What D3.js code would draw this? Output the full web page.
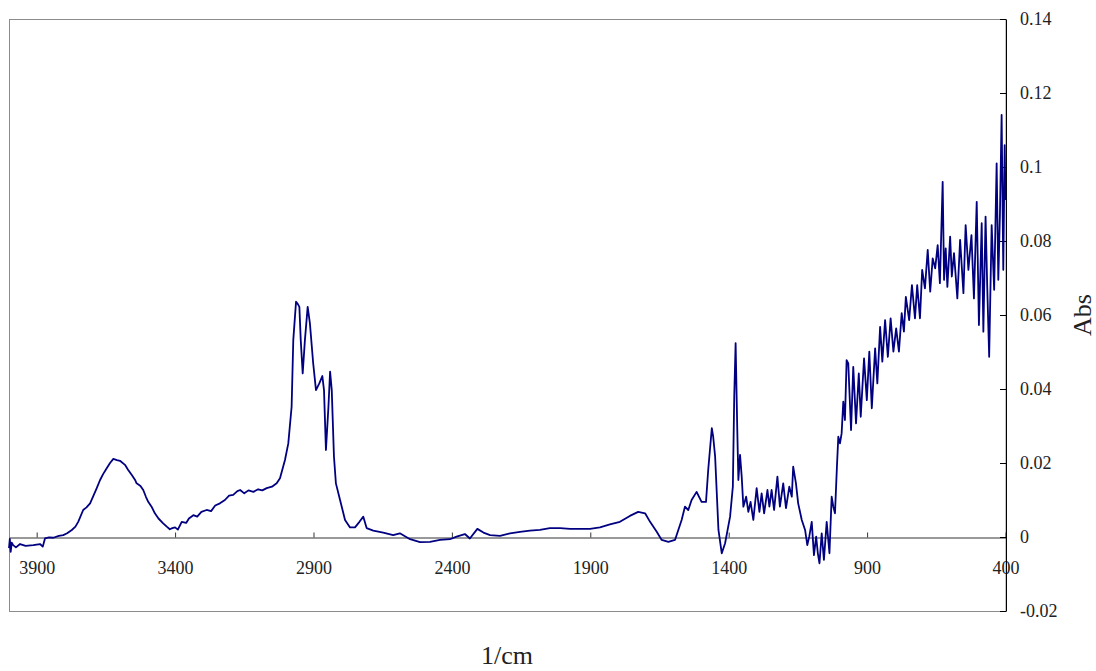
<!DOCTYPE html>
<html>
<head>
<meta charset="utf-8">
<script src="https://cdn.jsdelivr.net/npm/d3@7"></script>
<style>
  html, body { margin: 0; padding: 0; background: #fff; }
  svg { display: block; }
</style>
</head>
<body>
<div id="chart"></div>
<script>
// IR spectrum (wavenumber in 1/cm, absorbance)
const wavenumbers = [
  4000, 3997, 3994, 3990, 3985, 3975, 3960, 3940, 3912, 3888, 3878, 3870, 3855, 3840, 3820, 3804,
  3790, 3773, 3760, 3750, 3732, 3720, 3707, 3683, 3671, 3660, 3647, 3635, 3623, 3610, 3599, 3581,
  3570, 3557, 3545, 3539, 3525, 3515, 3505, 3497, 3485, 3473, 3460, 3443, 3430, 3419, 3410, 3400,
  3390, 3376, 3360, 3350, 3334, 3320, 3305, 3286, 3270, 3255, 3238, 3220, 3205, 3190, 3175, 3165,
  3150, 3135, 3117, 3100, 3085, 3069, 3050, 3033, 3021, 3003, 2991, 2979, 2973, 2963, 2957, 2951,
  2946, 2939, 2931, 2921, 2913, 2901, 2891, 2879, 2868, 2862, 2855, 2846, 2840, 2834, 2826, 2819,
  2804, 2786, 2768, 2750, 2734, 2720, 2708, 2684, 2648, 2612, 2588, 2551, 2515, 2479, 2443, 2407,
  2383, 2353, 2335, 2308, 2286, 2262, 2226, 2190, 2154, 2118, 2082, 2046, 2009, 1973, 1937, 1901,
  1865, 1829, 1793, 1757, 1727, 1702, 1684, 1660, 1642, 1618, 1594, 1570, 1558, 1546, 1534, 1516,
  1498, 1482, 1474, 1461, 1456, 1449, 1437, 1425, 1413, 1395, 1385, 1380, 1375, 1369, 1365, 1359,
  1353, 1347, 1337, 1329, 1321, 1311, 1299, 1289, 1281, 1272, 1260, 1253, 1245, 1236, 1224, 1215,
  1203, 1193, 1181, 1172, 1167, 1157, 1149, 1136, 1124, 1116, 1109, 1100, 1092, 1084, 1078, 1072,
  1064, 1056, 1046, 1036, 1028, 1022, 1016, 1009, 1004, 998, 992, 986, 980, 974, 968, 958,
  950, 940, 930, 923, 911, 901, 892, 883, 871, 863, 853, 845, 835, 825, 815, 805,
  795, 785, 775, 767, 760, 748, 738, 727, 719, 709, 701, 691, 681, 672, 663, 654,
  645, 637, 627, 622, 616, 610, 600, 594, 586, 574, 564, 552, 544, 534, 523, 514,
  504, 496, 486, 480, 472, 466, 459, 450, 441, 432, 426, 420, 414, 408, 403, 400
];
const absorbance = [
  -0.0030, -0.0005, -0.0040, -0.0015, -0.0022, -0.0028, -0.0019, -0.0024, -0.0022, -0.0019, -0.0026, -0.0004, -0.0001, -0.0002, 0.0003, 0.0005,
  0.0010, 0.0019, 0.0028, 0.0041, 0.0073, 0.0080, 0.0091, 0.0132, 0.0154, 0.0170, 0.0186, 0.0200, 0.0211, 0.0208, 0.0206, 0.0195,
  0.0182, 0.0168, 0.0155, 0.0145, 0.0138, 0.0127, 0.0108, 0.0095, 0.0082, 0.0064, 0.0050, 0.0037, 0.0028, 0.0021, 0.0024, 0.0026,
  0.0020, 0.0041, 0.0038, 0.0050, 0.0059, 0.0055, 0.0068, 0.0073, 0.0070, 0.0085, 0.0091, 0.0100, 0.0112, 0.0114, 0.0124, 0.0127,
  0.0118, 0.0126, 0.0122, 0.0129, 0.0126, 0.0132, 0.0136, 0.0145, 0.0159, 0.0208, 0.0253, 0.0352, 0.0532, 0.0636, 0.0630, 0.0622,
  0.0532, 0.0442, 0.0532, 0.0622, 0.0578, 0.0469, 0.0397, 0.0415, 0.0435, 0.0397, 0.0235, 0.0352, 0.0447, 0.0397, 0.0217, 0.0145,
  0.0100, 0.0046, 0.0026, 0.0026, 0.0041, 0.0055, 0.0024, 0.0017, 0.0012, 0.0005, 0.0010, -0.0006, -0.0014, -0.0013, -0.0008, -0.0006,
  0.0001, 0.0008, -0.0004, 0.0022, 0.0012, 0.0005, 0.0003, 0.0010, 0.0014, 0.0017, 0.0019, 0.0024, 0.0024, 0.0022, 0.0022, 0.0022,
  0.0026, 0.0034, 0.0041, 0.0057, 0.0068, 0.0064, 0.0041, 0.0014, -0.0008, -0.0013, -0.0008, 0.0046, 0.0082, 0.0073, 0.0100, 0.0122,
  0.0095, 0.0095, 0.0181, 0.0294, 0.0271, 0.0217, 0.0019, -0.0044, -0.0017, 0.0055, 0.0136, 0.0379, 0.0524, 0.0289, 0.0154, 0.0222,
  0.0163, 0.0082, 0.0109, 0.0068, 0.0095, 0.0046, 0.0132, 0.0068, 0.0118, 0.0064, 0.0127, 0.0082, 0.0127, 0.0073, 0.0163, 0.0082,
  0.0145, 0.0078, 0.0136, 0.0109, 0.0190, 0.0145, 0.0091, 0.0046, 0.0019, -0.0022, 0.0001, 0.0041, -0.0049, 0.0001, -0.0044, -0.0071,
  0.0010, -0.0062, 0.0041, -0.0044, 0.0109, 0.0082, 0.0064, 0.0190, 0.0271, 0.0253, 0.0280, 0.0366, 0.0316, 0.0478, 0.0469, 0.0289,
  0.0460, 0.0307, 0.0442, 0.0325, 0.0483, 0.0370, 0.0501, 0.0348, 0.0510, 0.0415, 0.0568, 0.0474, 0.0586, 0.0487, 0.0591, 0.0501,
  0.0564, 0.0501, 0.0605, 0.0555, 0.0649, 0.0586, 0.0681, 0.0591, 0.0681, 0.0591, 0.0722, 0.0672, 0.0776, 0.0663, 0.0753, 0.0726,
  0.0789, 0.0686, 0.0960, 0.0695, 0.0780, 0.0676, 0.0812, 0.0704, 0.0767, 0.0645, 0.0803, 0.0659, 0.0843, 0.0722, 0.0816, 0.0645,
  0.0906, 0.0573, 0.0848, 0.0555, 0.0866, 0.0676, 0.0487, 0.0843, 0.0668, 0.1010, 0.0695, 0.0875, 0.1141, 0.0722, 0.1059, 0.0911
];
const xTicks = [3900, 3400, 2900, 2400, 1900, 1400, 900, 400];
const yTicks = [-0.02, 0, 0.02, 0.04, 0.06, 0.08, 0.1, 0.12, 0.14];
const xTitle = "1/cm";
const yTitle = "Abs";

const width = 1096, height = 671;
const plot = { left: 9, right: 1005.5, top: 19, bottom: 611 };
const font = "'Liberation Serif', 'DejaVu Serif', serif";

const spectrum = wavenumbers.map((w, i) => ({ w, a: absorbance[i] }));

const x = d3.scaleLinear().domain([4000, 400]).range([plot.left, plot.right]);
const y = d3.scaleLinear().domain([-0.02, 0.14]).range([plot.bottom, plot.top]);

const svg = d3.select("#chart").append("svg")
  .attr("width", width)
  .attr("height", height)
  .style("font-family", font);

// plot frame
svg.append("rect")
  .attr("x", plot.left + 0.5)
  .attr("y", plot.top + 0.5)
  .attr("width", plot.right - plot.left)
  .attr("height", plot.bottom - plot.top)
  .attr("fill", "none")
  .attr("stroke", "#8c8c8c")
  .attr("stroke-width", 1);

// x axis sits on the zero line, ticks pointing up
const xAxis = svg.append("g")
  .attr("transform", `translate(0,${Math.round(y(0)) + 0.5})`)
  .call(d3.axisTop(x).tickValues(xTicks).tickSize(5).tickFormat(d3.format("d")).tickSizeOuter(0));
xAxis.select(".domain").attr("stroke", "#333");
xAxis.selectAll(".tick line").attr("stroke", "#333");
xAxis.selectAll(".tick text")
  .attr("y", 31)
  .attr("dy", "0.32em")
  .attr("fill", "#222")
  .style("font-family", font)
  .style("font-size", "18px");

// y axis on the right, ticks pointing inward; plain hyphen for negatives
const yAxis = svg.append("g")
  .attr("transform", `translate(${plot.right + 0.5},0)`)
  .call(d3.axisLeft(y).tickValues(yTicks).tickSize(6).tickSizeOuter(0).tickFormat(d => String(d)));
yAxis.select(".domain").attr("stroke", "#000");
yAxis.selectAll(".tick line").attr("stroke", "#000");
yAxis.selectAll(".tick text")
  .attr("x", 14)
  .attr("text-anchor", "start")
  .attr("fill", "#222")
  .style("font-family", font)
  .style("font-size", "18px");

// spectrum line
const line = d3.line()
  .x(d => x(d.w))
  .y(d => y(d.a));

svg.append("path")
  .datum(spectrum)
  .attr("fill", "none")
  .attr("stroke", "#000080")
  .attr("stroke-width", 1.8)
  .attr("stroke-linejoin", "round")
  .attr("d", line);

// axis titles
svg.append("text")
  .attr("x", 507)
  .attr("y", 664)
  .attr("text-anchor", "middle")
  .attr("fill", "#222")
  .style("font-size", "26px")
  .text(xTitle);

svg.append("text")
  .attr("transform", "translate(1091,315) rotate(-90)")
  .attr("text-anchor", "middle")
  .attr("fill", "#222")
  .style("font-size", "26px")
  .text(yTitle);
</script>
</body>
</html>
